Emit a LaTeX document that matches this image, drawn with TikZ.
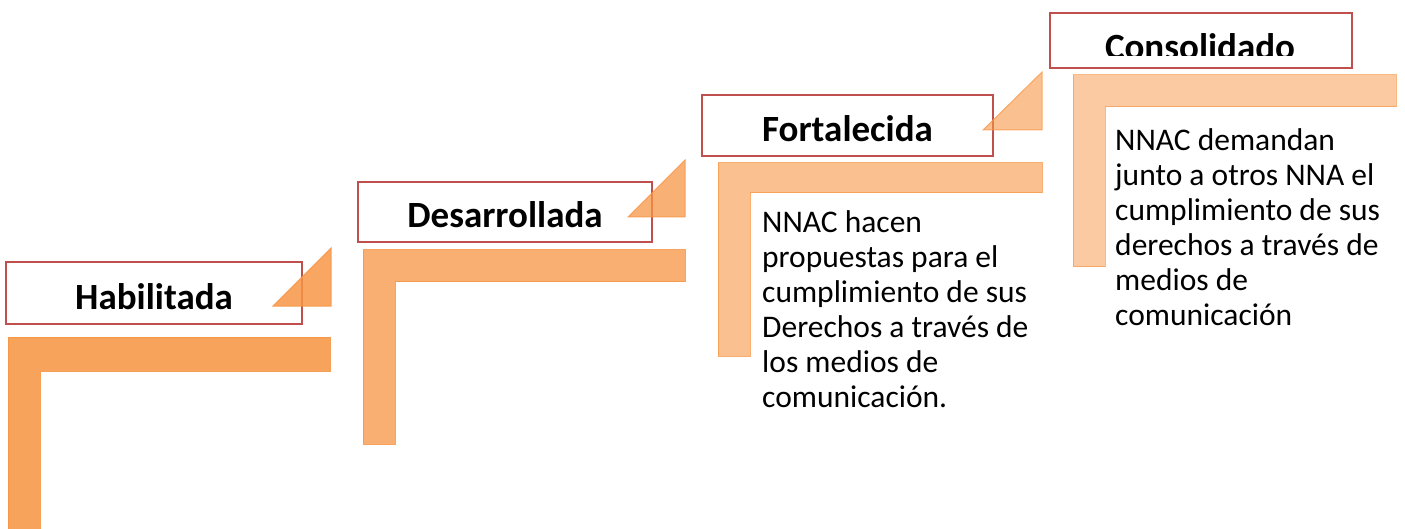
\documentclass[tikz,border=0pt]{standalone}
\usepackage{fontspec}
\setmainfont{Carlito}
\definecolor{boxred}{HTML}{C0504D}
\definecolor{acc}{HTML}{F79646}
\tikzset{
  titlefont/.style={font=\fontsize{37}{40}\selectfont\bfseries},
  stagebox/.style={draw=boxred, line width=2.5pt, fill=white, inner sep=0pt,
     titlefont, text height=32pt, text depth=0pt},
  ell/.style={fill=acc, draw=acc, line width=1pt},
  tri/.style={fill=acc, draw=acc, line width=1pt},
  desc/.style={anchor=north west, align=left, inner sep=0pt,
     font=\fontsize{31.5}{35}\selectfont}
}
\begin{document}
\begin{tikzpicture}[x=1pt,y=-1pt]
\useasboundingbox (0,0) rectangle (1405,529);
% L-shapes
\path[ell, fill opacity=0.88, draw opacity=0.9] (8,337) -- (330,337) -- (330,371) -- (40,371) -- (40,529) -- (8,529) -- cycle;
\path[ell, fill opacity=0.76, draw opacity=0.85] (363,250) -- (685,250) -- (685,282) -- (395,282) -- (395,444) -- (363,444) -- cycle;
\path[ell, fill opacity=0.6, draw opacity=0.75] (718,163) -- (1042,163) -- (1042,193) -- (750,193) -- (750,356) -- (718,356) -- cycle;
\path[ell, fill opacity=0.5, draw opacity=0.65] (1073,75) -- (1396,75) -- (1396,107) -- (1105,107) -- (1105,267) -- (1073,267) -- cycle;
% stage boxes
\node[stagebox, minimum width=296pt, minimum height=62pt] (hab) at (154,293) {Habilitada};
\node[stagebox, minimum width=294pt, minimum height=60pt] (des) at (505,212) {Desarrollada};
\node[stagebox, minimum width=291pt, minimum height=61pt] (fort) at (847.5,125.5) {Fortalecida};
\node[stagebox, minimum width=302pt, minimum height=55pt] (con) at (1201,40.5) {};
\begin{scope}
  \clip (1052,15) rectangle (1350,56);
  \node[titlefont, anchor=base, inner sep=0pt] (contxt) at (1200,60) {Consolidado};
\end{scope}
% triangles
\path[tri, fill opacity=0.85, draw opacity=0.9] (273,306) -- (331,306) -- (331,248) -- cycle;
\path[tri, fill opacity=0.75, draw opacity=0.85] (628,217) -- (685,217) -- (685,160) -- cycle;
\path[tri, fill opacity=0.6, draw opacity=0.75] (983,130) -- (1042,130) -- (1042,72) -- cycle;
% descriptions
\node[desc] (t3) at (762,210.5) {NNAC hacen\\propuestas para el\\cumplimiento de sus\\Derechos a través de\\los medios de\\comunicación.};
\node[desc] (t4) at (1115,128.5) {NNAC demandan\\junto a otros NNA el\\cumplimiento de sus\\derechos a través de\\medios de\\comunicación};
\end{tikzpicture}
\end{document}
